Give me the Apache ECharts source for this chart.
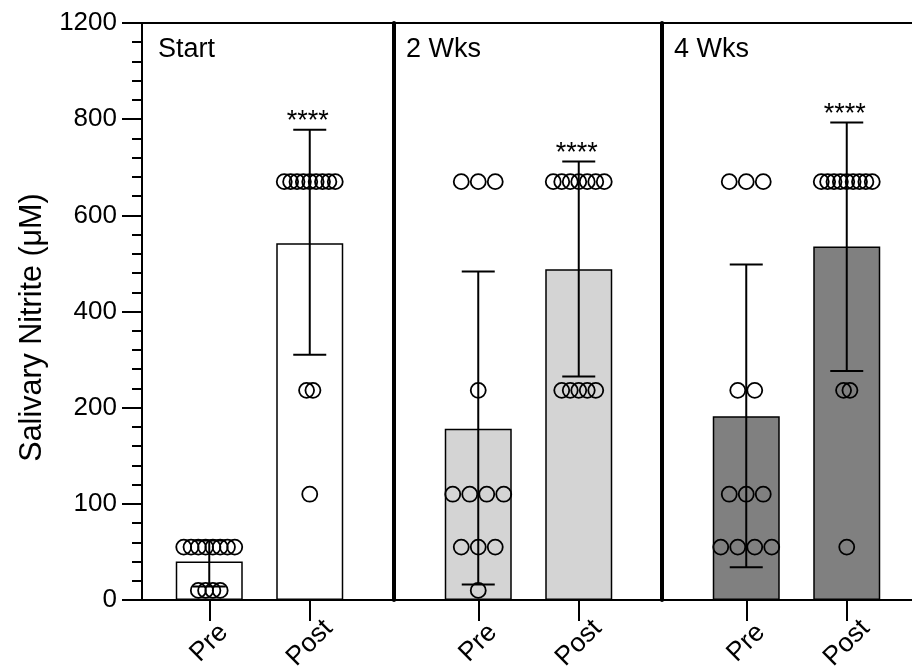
<!DOCTYPE html>
<html><head><meta charset="utf-8">
<script src="https://cdn.jsdelivr.net/npm/echarts@6/dist/echarts.min.js"></script>
<style>html,body{margin:0;padding:0;background:#fff}#c{width:912px;height:666px}#e{position:absolute;left:0;top:0;font:12px monospace;white-space:pre-wrap;width:900px}</style>
</head><body><div id="c"></div><div id="e"></div>
<script>
// ---- data ----
const categories = ['Pre', 'Post'];
const panelNames = ['Start', '2 Wks', '4 Wks'];
const yTickValues = [0, 100, 200, 400, 600, 800, 1200];
const yAxisTitle = 'Salivary Nitrite (μM)';

const meanStart = [40, 542];
const meanWk2 = [178, 488];
const meanWk4 = [191, 535];

const errLowStart = [14, 310];
const errHighStart = [62, 778];
const errLowWk2 = [16, 265];
const errHighWk2 = [483, 712];
const errLowWk4 = [34, 276];
const errHighWk4 = [498, 793];

const sigStart = ['', '****'];
const sigWk2 = ['', '****'];
const sigWk4 = ['', '****'];

const pointsStartPre = [55, 55, 55, 55, 55, 55, 55, 55, 10, 10, 10, 10];
const pointsStartPost = [670, 670, 670, 670, 670, 670, 670, 670, 670, 236, 236, 110];
const pointsWk2Pre = [670, 670, 670, 236, 110, 110, 110, 110, 55, 55, 55, 10];
const pointsWk2Post = [670, 670, 670, 670, 670, 670, 670, 236, 236, 236, 236, 236];
const pointsWk4Pre = [670, 670, 670, 236, 236, 110, 110, 110, 55, 55, 55, 55];
const pointsWk4Post = [670, 670, 670, 670, 670, 670, 670, 670, 670, 236, 236, 55];

// ---- helpers ----
const FONT = "'Liberation Sans', Arial, sans-serif";
// segmented (piecewise-linear) y scale: each labelled tick is one equal step
function toAxis(v) {
  for (let i = 1; i < yTickValues.length; i++) {
    if (v <= yTickValues[i]) {
      return i - 1 + (v - yTickValues[i - 1]) / (yTickValues[i] - yTickValues[i - 1]);
    }
  }
  return yTickValues.length - 1;
}
function pointItems(vals, cat) {
  const counts = {};
  vals.forEach(v => { counts[v] = (counts[v] || 0) + 1; });
  const maxN = Math.max.apply(null, Object.values(counts));
  const spacing = maxN > 1 ? Math.min(17, 51 / (maxN - 1)) : 0;
  const seen = {};
  return vals.map(v => {
    const n = counts[v];
    seen[v] = (seen[v] || 0) + 1;
    const k = seen[v] - 1;
    return { value: [cat, toAxis(v)], symbolOffset: [(k - (n - 1) / 2) * spacing, 0] };
  });
}

const panelMeans = [meanStart, meanWk2, meanWk4];
const panelLows = [errLowStart, errLowWk2, errLowWk4];
const panelHighs = [errHighStart, errHighWk2, errHighWk4];
const panelSigs = [sigStart, sigWk2, sigWk4];
const panelPoints = [[pointsStartPre, pointsStartPost], [pointsWk2Pre, pointsWk2Post], [pointsWk4Pre, pointsWk4Post]];
const panelFills = ['#ffffff', '#d4d4d4', '#808080'];
const panelLefts = [159, 428, 696];
const separatorX = [null, 393.5, 662];
const labelLefts = [158, 406, 674];

const TOP = 23, BOTTOM = 66;
const grids = [{ left: 142, right: 0, top: TOP, bottom: BOTTOM, outerBoundsMode: 'none', containLabel: false }];
panelLefts.forEach(l => grids.push({ left: l, width: 201, top: TOP, bottom: BOTTOM, outerBoundsMode: 'none', containLabel: false }));

const blackLine = w => ({ color: '#000', width: w });

const xAxes = [
  { gridIndex: 0, type: 'value', min: 0, max: 1, position: 'bottom',
    axisLine: { show: true, onZero: false, lineStyle: blackLine(2) },
    axisTick: { show: false }, axisLabel: { show: false }, splitLine: { show: false } },
  { gridIndex: 0, type: 'value', min: 0, max: 1, position: 'top',
    axisLine: { show: true, onZero: false, lineStyle: blackLine(2) },
    axisTick: { show: false }, axisLabel: { show: false }, splitLine: { show: false } }
];
const yAxes = [
  { gridIndex: 0, type: 'value', min: 0, max: yTickValues.length - 1, interval: 1,
    name: yAxisTitle, nameLocation: 'middle', nameGap: 90,
    nameTextStyle: { fontSize: 30.5, color: '#000', fontFamily: FONT, padding: [0, 32, 0, 0] },
    axisLine: { show: true, lineStyle: blackLine(2) },
    axisTick: { show: true, length: 20, lineStyle: blackLine(2) },
    minorTick: { show: true, splitNumber: 5, length: 10, lineStyle: blackLine(2) },
    axisLabel: { formatter: v => String(yTickValues[Math.round(v)]), fontSize: 26, margin: 25, color: '#000', fontFamily: FONT },
    splitLine: { show: false } }
];
const series = [];
panelNames.forEach((p, i) => {
  const gi = i + 1;
  xAxes.push({ gridIndex: gi, type: 'category', data: categories,
    axisLine: { show: false },
    axisTick: { show: true, alignWithLabel: true, length: 21, lineStyle: blackLine(2) },
    axisLabel: { rotate: 45, align: 'center', verticalAlign: 'middle', margin: 43,
      fontSize: 26.5, color: '#000', fontFamily: FONT },
    splitLine: { show: false } });
  yAxes.push({ gridIndex: gi, type: 'value', min: 0, max: yTickValues.length - 1, interval: 1,
    offset: separatorX[i] === null ? 0 : panelLefts[i] - separatorX[i],
    axisLine: { show: separatorX[i] !== null, lineStyle: blackLine(4) },
    axisTick: { show: false }, axisLabel: { show: false }, splitLine: { show: false } });
  series.push({ type: 'bar', xAxisIndex: gi + 1, yAxisIndex: gi, barWidth: 67, z: 2,
    data: panelMeans[i].map(toAxis),
    itemStyle: { color: panelFills[i], borderColor: '#000', borderWidth: 1.5 } });
  const lows = panelLows[i], highs = panelHighs[i], sigs = panelSigs[i];
  series.push({ type: 'custom', xAxisIndex: gi + 1, yAxisIndex: gi, z: 4,
    data: categories.map((c, k) => [k, toAxis(lows[k]), toAxis(highs[k])]),
    renderItem: (params, api) => {
      const lo = api.coord([api.value(0), api.value(1)]);
      const hi = api.coord([api.value(0), api.value(2)]);
      const half = 16.5;
      const ls = { stroke: '#000', lineWidth: 2 };
      const children = [
        { type: 'line', shape: { x1: lo[0], y1: lo[1], x2: hi[0], y2: hi[1] }, style: ls },
        { type: 'line', shape: { x1: hi[0] - half, y1: hi[1], x2: hi[0] + half, y2: hi[1] }, style: ls },
        { type: 'line', shape: { x1: lo[0] - half, y1: lo[1], x2: lo[0] + half, y2: lo[1] }, style: ls }
      ];
      const s = sigs[params.dataIndex];
      if (s) {
        children.push({ type: 'text', x: hi[0] - 2, y: hi[1] - 8,
          style: { text: s, fill: '#000', fontSize: 27, fontFamily: FONT, align: 'center', verticalAlign: 'middle' } });
      }
      return { type: 'group', children: children };
    } });
  const pts = [];
  panelPoints[i].forEach((vals, k) => { pointItems(vals, k).forEach(d => pts.push(d)); });
  series.push({ type: 'scatter', xAxisIndex: gi + 1, yAxisIndex: gi, z: 5,
    symbol: 'circle', symbolSize: 15, data: pts,
    itemStyle: { color: 'rgba(0,0,0,0)', borderColor: '#000', borderWidth: 1.8, opacity: 1 } });
});

const titles = panelNames.map((t, i) => ({ text: t, left: labelLefts[i], top: 36, padding: 0,
  textStyle: { fontSize: 27, fontWeight: 'normal', color: '#000', fontFamily: FONT } }));

try {
  const chart = echarts.init(document.getElementById('c'), null, { renderer: 'canvas' });
  chart.setOption({
    backgroundColor: '#fff',
    animation: false,
    title: titles,
    grid: grids,
    xAxis: xAxes,
    yAxis: yAxes,
    series: series
  });
} catch (e) {
  document.getElementById('e').textContent = String(e.stack);
}
</script>
</body></html>
